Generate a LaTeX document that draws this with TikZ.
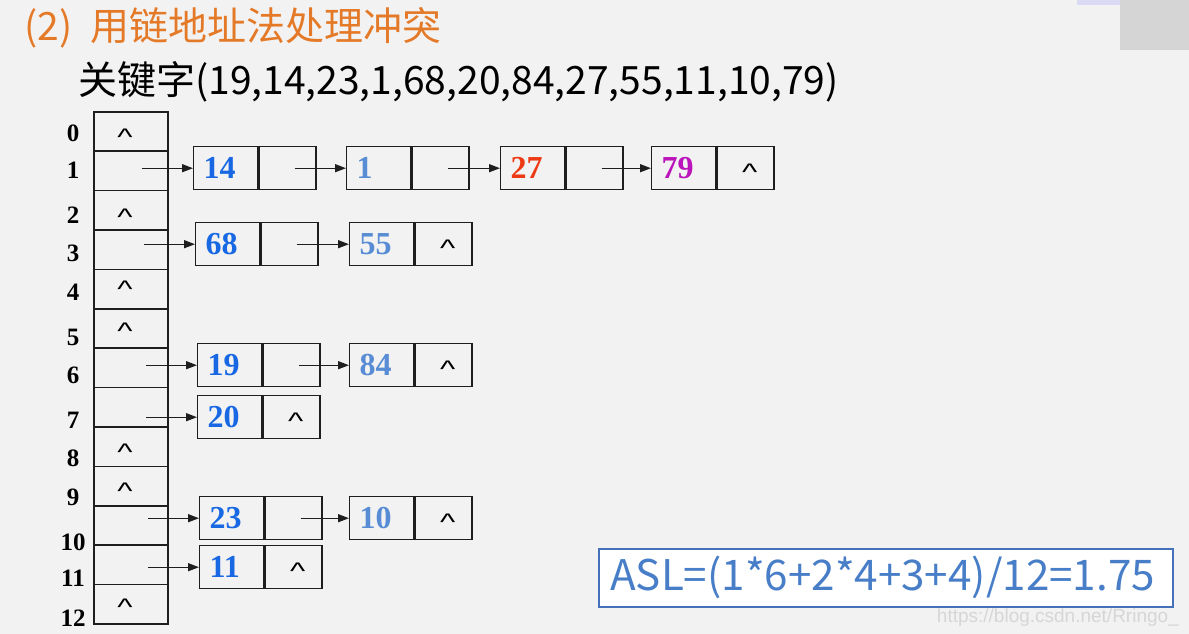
\documentclass[tikz,border=0pt]{standalone}
\usepackage{fontspec}
\usetikzlibrary{arrows.meta}
\newfontfamily\cjk{Noto Sans CJK SC}
\newfontfamily\tnr{Liberation Serif}
\newfontfamily\asf{Liberation Sans}
\definecolor{bgc}{RGB}{242,242,242}
\definecolor{linec}{RGB}{30,30,30}
\definecolor{blueA}{RGB}{24,104,228}
\definecolor{blueB}{RGB}{88,140,212}
\definecolor{redc}{RGB}{238,58,20}
\definecolor{purc}{RGB}{186,20,186}
\definecolor{orangec}{RGB}{228,122,40}
\definecolor{aslc}{RGB}{72,126,200}
\definecolor{aslb}{RGB}{70,112,186}
\definecolor{wmc}{RGB}{214,214,214}
\tikzset{
  tcell/.style={draw=linec, line width=1.6pt, minimum width=74pt, minimum height=39.4pt, inner sep=0pt, anchor=north west},
  dcell/.style={draw=linec, line width=1.4pt, minimum height=43pt, text width=44pt, inner xsep=10pt, inner ysep=0pt, align=left, anchor=north west, font=\tnr\bfseries\fontsize{32}{32}\selectfont},
  pcell/.style={draw=linec, line width=1.4pt, minimum height=43pt, minimum width=57pt, inner sep=0pt, anchor=west},
  nullmark/.style={font=\asf\fontsize{24}{24}\selectfont, inner sep=0pt, yshift=-4pt, xscale=1.35},
  idx/.style={font=\tnr\bfseries\fontsize{25}{25}\selectfont, inner sep=0pt},
  arr/.style={draw=linec, line width=1.3pt, -{Triangle[length=11pt,width=8pt]}},
}
\begin{document}
\begin{tikzpicture}[x=1pt,y=-1pt]
\useasboundingbox (0,0) rectangle (1189,634);
\fill[bgc] (0,0) rectangle (1189,634);
\fill[black!12!bgc] (1120,0) rectangle (1189,50);
\fill[blue!10!bgc] (1077,0) rectangle (1120,5);
% titles
\node[anchor=west, inner sep=0pt, font=\cjk\fontsize{39}{39}\selectfont, text=orangec] (title) at (24,28) {(2)\hspace{18pt}用链地址法处理冲突};
\node[anchor=west, inner sep=0pt, font=\cjk\fontsize{39}{39}\selectfont] (keys) at (78,82) {关键字(19,14,23,1,68,20,84,27,55,11,10,79)};
% table
\foreach \i in {0,...,12} {
  \node[tcell] (t\i) at (93,{111+39.4*\i}) {};
}
% index labels
\foreach \i/\yy in {0/133,1/170,2/215,3/253,4/292,5/337,6/375,7/420,8/458,9/497,10/542,11/578,12/618} {
  \node[idx] (l\i) at (73,\yy) {\i};
}
% null marks in table
\foreach \i/\yy in {0/133,2/213,4/285,5/327,8/448,9/487,12/603} {
  \node[nullmark] (m\i) at (125,\yy) {\textasciicircum};
}
% list nodes
\node[dcell, text=blueA] (d14) at (193,146) {14};
\node[pcell] (p14) at (d14.east) {};
\node[dcell, text=blueB] (d1) at (346,146) {1};
\node[pcell] (p1) at (d1.east) {};
\node[dcell, text=redc] (d27) at (500,146) {27};
\node[pcell] (p27) at (d27.east) {};
\node[dcell, text=purc] (d79) at (651,146) {79};
\node[pcell] (p79) at (d79.east) {};
\node[dcell, text=blueA] (d68) at (195,222) {68};
\node[pcell] (p68) at (d68.east) {};
\node[dcell, text=blueB] (d55) at (349,222) {55};
\node[pcell] (p55) at (d55.east) {};
\node[dcell, text=blueA] (d19) at (197,343) {19};
\node[pcell] (p19) at (d19.east) {};
\node[dcell, text=blueB] (d84) at (349,343) {84};
\node[pcell] (p84) at (d84.east) {};
\node[dcell, text=blueA] (d20) at (197,395) {20};
\node[pcell] (p20) at (d20.east) {};
\node[dcell, text=blueA] (d23) at (199,496) {23};
\node[pcell] (p23) at (d23.east) {};
\node[dcell, text=blueB] (d10) at (349,496) {10};
\node[pcell] (p10) at (d10.east) {};
\node[dcell, text=blueA] (d11) at (199,545) {11};
\node[pcell] (p11) at (d11.east) {};
% null marks in list tails
\foreach \n in {79,55,84,20,10,11} {
  \node[nullmark] (m\n) at ([xshift=4pt]p\n.center) {\textasciicircum};
}
% arrows from table
\coordinate (s1) at (142,0);
\coordinate (s3) at (144,0);
\coordinate (s6) at (146,0);
\coordinate (s7) at (146,0);
\coordinate (s10) at (148,0);
\coordinate (s11) at (148,0);
\draw[arr] (s1 |- d14.west) -- (d14.west);
\draw[arr] (s3 |- d68.west) -- (d68.west);
\draw[arr] (s6 |- d19.west) -- (d19.west);
\draw[arr] (s7 |- d20.west) -- (d20.west);
\draw[arr] (s10 |- d23.west) -- (d23.west);
\draw[arr] (s11 |- d11.west) -- (d11.west);
% chain arrows
\draw[arr] ([xshift=7pt]p14.center) -- (d1.west);
\draw[arr] ([xshift=7pt]p1.center) -- (d27.west);
\draw[arr] ([xshift=7pt]p27.center) -- (d79.west);
\draw[arr] ([xshift=7pt]p68.center) -- (d55.west);
\draw[arr] ([xshift=7pt]p19.center) -- (d84.west);
\draw[arr] ([xshift=7pt]p23.center) -- (d10.west);
% ASL box
\node[draw=aslb, line width=2pt, fill=white, anchor=north west, minimum width=574pt, minimum height=58pt, inner sep=0pt] (aslbox) at (598,548) {};
\node[anchor=west, inner sep=0pt, font=\cjk\fontsize{42.2}{42.2}\selectfont, text=aslc] (asl) at ([xshift=12pt,yshift=1pt]aslbox.west) {ASL=(1*6+2*4+3+4)/12=1.75};
% watermark
\node[anchor=base east, inner sep=0pt, font=\asf\fontsize{19}{19}\selectfont, text=wmc] (wm) at (1179,622) {https://blog.csdn.net/Rringo\_};
\end{tikzpicture}
\end{document}
